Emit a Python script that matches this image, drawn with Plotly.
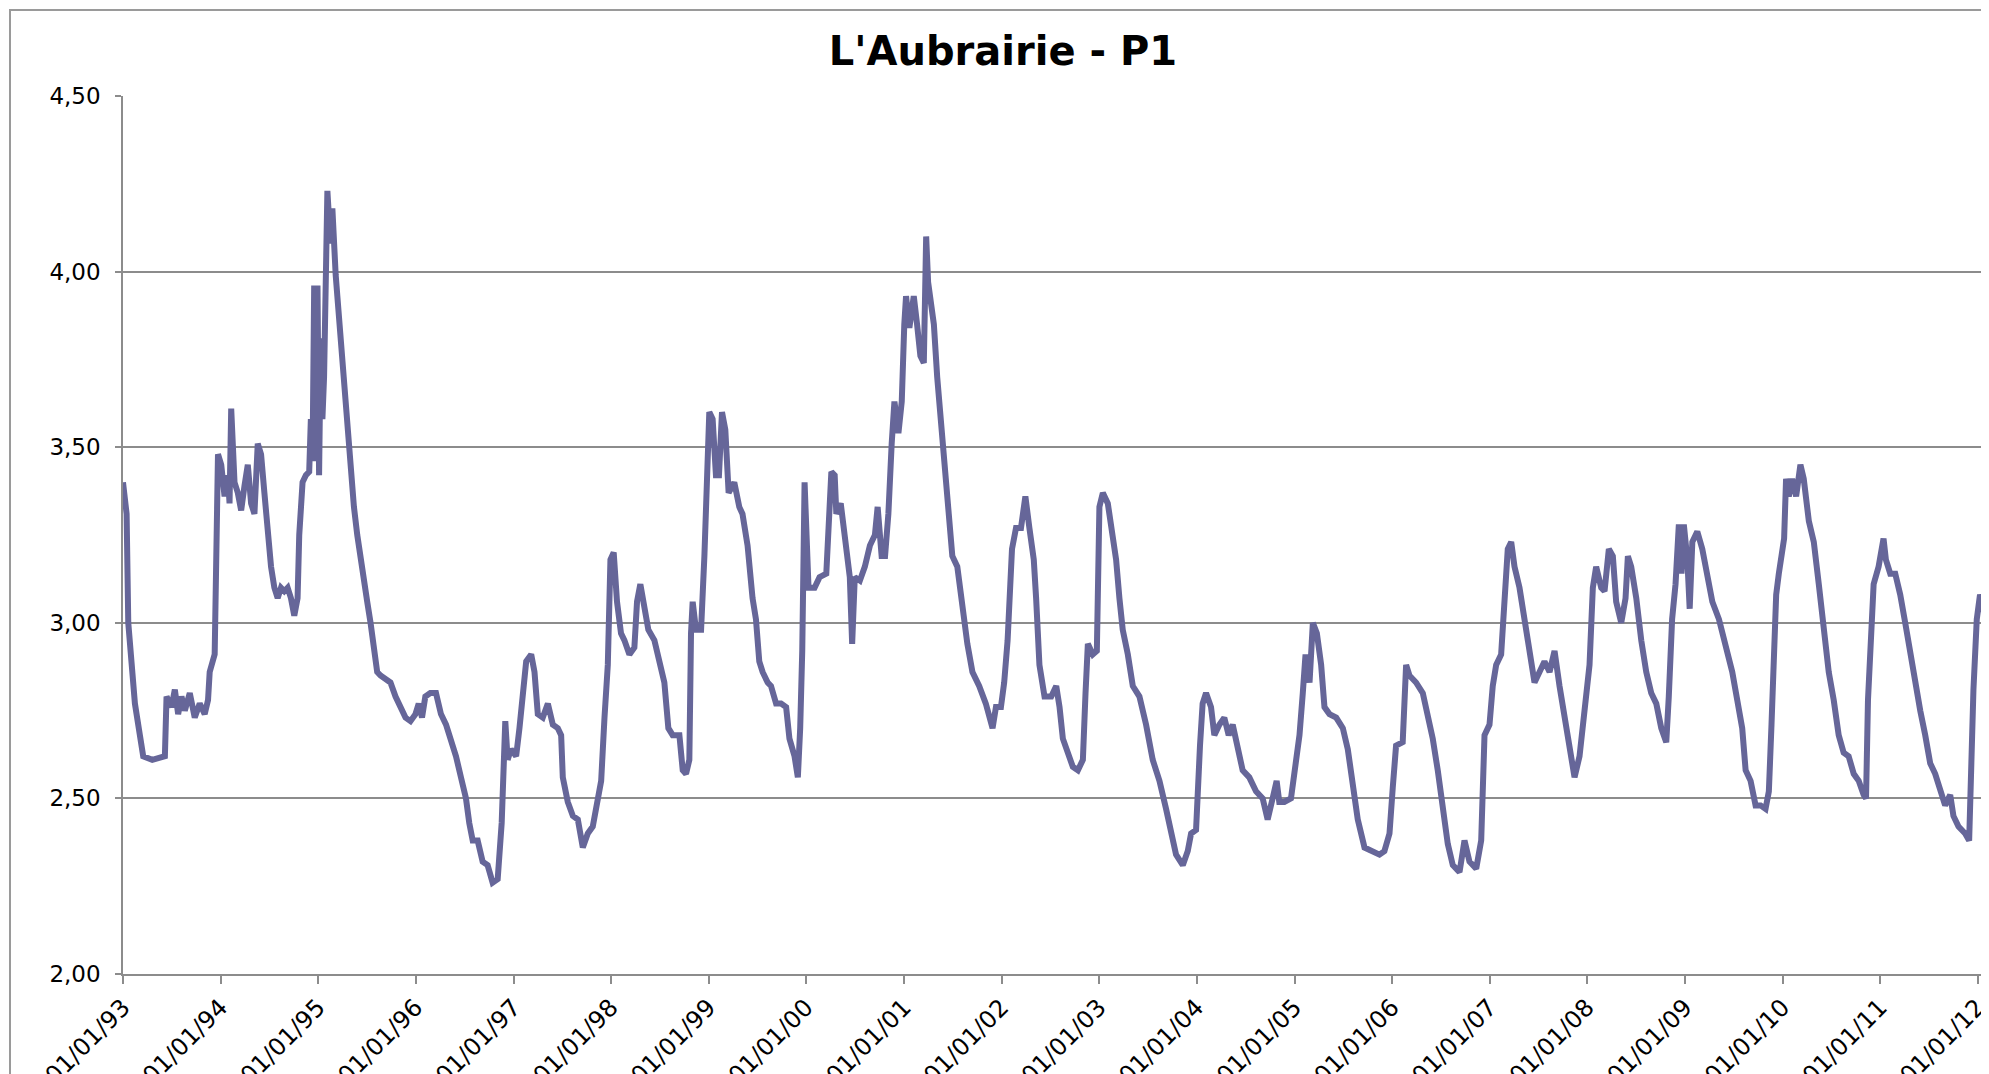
import pandas as pd
import plotly.graph_objects as go

# decimal year -> water level (m)
YEARS = [
    1993.000, 1993.037, 1993.054, 1993.088, 1993.122, 1993.173, 1993.207, 1993.300, 1993.429, 1993.446,
    1993.497, 1993.531, 1993.565, 1993.599, 1993.633, 1993.684, 1993.735, 1993.786, 1993.837, 1993.871,
    1993.888, 1993.939, 1993.956, 1993.973, 1994.007, 1994.041, 1994.075, 1994.092, 1994.109, 1994.126,
    1994.143, 1994.177, 1994.211, 1994.245, 1994.279, 1994.313, 1994.347, 1994.381, 1994.415, 1994.449,
    1994.483, 1994.517, 1994.551, 1994.585, 1994.619, 1994.653, 1994.687, 1994.721, 1994.755, 1994.789,
    1994.806, 1994.840, 1994.874, 1994.908, 1994.925, 1994.942, 1994.959, 1994.976, 1994.993, 1995.010,
    1995.027, 1995.044, 1995.061, 1995.078, 1995.095, 1995.112, 1995.129, 1995.146, 1995.163, 1995.180,
    1995.197, 1995.231, 1995.265, 1995.299, 1995.333, 1995.367, 1995.401, 1995.435, 1995.469, 1995.503,
    1995.537, 1995.571, 1995.605, 1995.639, 1995.690, 1995.741, 1995.793, 1995.844, 1995.895, 1995.946,
    1995.997, 1996.031, 1996.065, 1996.099, 1996.150,
    1996.208, 1996.259, 1996.311, 1996.362, 1996.413, 1996.464, 1996.515, 1996.549, 1996.584, 1996.635,
    1996.686, 1996.737, 1996.788, 1996.840, 1996.881, 1996.918, 1996.942, 1996.976, 1997.027, 1997.061,
    1997.096, 1997.130, 1997.181, 1997.215, 1997.249, 1997.300, 1997.352, 1997.403, 1997.454, 1997.488,
    1997.505, 1997.556, 1997.608, 1997.659, 1997.710, 1997.761, 1997.812, 1997.863, 1997.898, 1997.932,
    1997.966, 1997.993, 1998.027, 1998.061, 1998.102, 1998.137, 1998.188, 1998.239, 1998.266, 1998.300,
    1998.341, 1998.382, 1998.444, 1998.495, 1998.546, 1998.587, 1998.631, 1998.700, 1998.734, 1998.768,
    1998.802, 1998.819, 1998.836, 1998.870, 1998.922, 1998.956, 1998.983, 1999.007, 1999.041, 1999.075,
    1999.106, 1999.137, 1999.171, 1999.205, 1999.263, 1999.314,
    1999.347, 1999.399, 1999.450, 1999.485, 1999.519, 1999.553, 1999.605, 1999.639, 1999.691, 1999.742,
    1999.794, 1999.828, 1999.880, 1999.914, 1999.938, 1999.959, 1999.983, 2000.000, 2000.024, 2000.086,
    2000.137, 2000.206, 2000.234, 2000.258, 2000.292, 2000.309, 2000.354, 2000.395, 2000.447, 2000.471,
    2000.498, 2000.550, 2000.601, 2000.653, 2000.704, 2000.732, 2000.773, 2000.808, 2000.842, 2000.876,
    2000.904, 2000.945, 2000.979, 2001.003, 2001.021, 2001.055, 2001.100, 2001.134, 2001.168, 2001.203,
    2001.227, 2001.247, 2001.271, 2001.306, 2001.340, 2001.392, 2001.443, 2001.495, 2001.546, 2001.598,
    2001.649, 2001.701, 2001.770, 2001.838, 2001.907, 2001.942, 2001.993, 2002.027, 2002.062, 2002.107,
    2002.148, 2002.199, 2002.244, 2002.285, 2002.330, 2002.354, 2002.388, 2002.440, 2002.509,
    2002.560, 2002.594, 2002.628, 2002.679, 2002.730, 2002.782, 2002.833, 2002.860, 2002.884, 2002.935,
    2002.976, 2003.003, 2003.038, 2003.089, 2003.123, 2003.174, 2003.208, 2003.242, 2003.294, 2003.345,
    2003.413, 2003.481, 2003.549, 2003.618, 2003.686, 2003.737, 2003.788, 2003.857, 2003.908, 2003.942,
    2003.993, 2004.034, 2004.061, 2004.096, 2004.147, 2004.181, 2004.232, 2004.283, 2004.328, 2004.369,
    2004.420, 2004.471, 2004.539, 2004.608, 2004.676, 2004.727, 2004.778, 2004.819, 2004.846, 2004.898,
    2004.966, 2005.000, 2005.051, 2005.085, 2005.113, 2005.154, 2005.188, 2005.229, 2005.273, 2005.307,
    2005.358, 2005.427, 2005.495, 2005.546, 2005.597, 2005.648, 2005.717,
    2005.802, 2005.870, 2005.921, 2005.973, 2006.007, 2006.041, 2006.109, 2006.144, 2006.178, 2006.246,
    2006.315, 2006.366, 2006.417, 2006.468, 2006.520, 2006.571, 2006.622, 2006.691, 2006.742, 2006.793,
    2006.862, 2006.913, 2006.947, 2006.998, 2007.032, 2007.067, 2007.118, 2007.152, 2007.186, 2007.221,
    2007.255, 2007.306, 2007.357, 2007.409, 2007.460, 2007.511, 2007.562, 2007.614, 2007.665, 2007.716,
    2007.768, 2007.819, 2007.870, 2007.921, 2007.973, 2008.024, 2008.058, 2008.092, 2008.144, 2008.178,
    2008.222, 2008.263, 2008.297, 2008.349, 2008.393, 2008.417, 2008.451, 2008.503, 2008.554, 2008.605,
    2008.656, 2008.708, 2008.759, 2008.810,
    2008.836, 2008.870, 2008.905, 2008.939, 2008.966, 2008.990, 2009.024, 2009.048, 2009.075, 2009.126,
    2009.177, 2009.228, 2009.280, 2009.348, 2009.416, 2009.484, 2009.535, 2009.586, 2009.621, 2009.672,
    2009.723, 2009.774, 2009.825, 2009.859, 2009.886, 2009.910, 2009.934, 2009.961, 2009.996, 2010.016,
    2010.036, 2010.064, 2010.098, 2010.139, 2010.183, 2010.217, 2010.269, 2010.320, 2010.371, 2010.422,
    2010.473, 2010.524, 2010.575, 2010.626, 2010.677, 2010.729, 2010.780, 2010.831, 2010.855, 2010.875,
    2010.899, 2010.933, 2010.984, 2011.035, 2011.059, 2011.104, 2011.155, 2011.206, 2011.257, 2011.308,
    2011.359, 2011.411, 2011.462, 2011.513, 2011.564, 2011.615, 2011.666, 2011.718, 2011.751, 2011.803,
    2011.871, 2011.912, 2011.932, 2011.956, 2011.990, 2012.024, 2012.058, 2012.092, 2012.116,
]

LEVELS = [
    3.40, 3.31, 3.00, 2.86, 2.77, 2.68, 2.62, 2.61, 2.62, 2.79,
    2.76, 2.81, 2.74, 2.79, 2.75, 2.80, 2.73, 2.77, 2.74, 2.78,
    2.86, 2.91, 3.25, 3.48, 3.45, 3.36, 3.42, 3.34, 3.61, 3.52,
    3.40, 3.37, 3.32, 3.39, 3.45, 3.34, 3.31, 3.51, 3.48, 3.37,
    3.25, 3.16, 3.10, 3.07, 3.10, 3.09, 3.10, 3.07, 3.02, 3.07,
    3.25, 3.40, 3.42, 3.43, 3.58, 3.46, 3.96, 3.46, 3.96, 3.42,
    3.81, 3.58, 3.70, 4.08, 4.23, 4.15, 4.08, 4.18, 4.06, 3.99,
    3.93, 3.81, 3.67, 3.54, 3.42, 3.33, 3.25, 3.18, 3.10, 3.06,
    3.00, 2.92, 2.86, 2.85, 2.84, 2.83, 2.79, 2.76, 2.73, 2.72,
    2.74, 2.77, 2.73, 2.79, 2.80,
    2.80, 2.74, 2.71, 2.67, 2.62, 2.56, 2.50, 2.43, 2.38, 2.38,
    2.32, 2.31, 2.26, 2.27, 2.43, 2.72, 2.61, 2.64, 2.62, 2.70,
    2.80, 2.89, 2.91, 2.86, 2.74, 2.73, 2.77, 2.71, 2.70, 2.68,
    2.56, 2.49, 2.45, 2.44, 2.36, 2.40, 2.42, 2.49, 2.55, 2.73,
    2.88, 3.18, 3.20, 3.06, 2.97, 2.95, 2.91, 2.93, 3.06, 3.11,
    3.03, 2.98, 2.95, 2.89, 2.83, 2.70, 2.68, 2.68, 2.58, 2.57,
    2.61, 2.97, 3.06, 2.98, 2.98, 3.19, 3.46, 3.60, 3.58, 3.42,
    3.42, 3.60, 3.55, 3.37, 3.40, 3.33,
    3.31, 3.22, 3.07, 3.01, 2.89, 2.86, 2.83, 2.82, 2.77, 2.77,
    2.76, 2.67, 2.62, 2.56, 2.70, 2.92, 3.40, 3.22, 3.10, 3.10,
    3.13, 3.14, 3.31, 3.43, 3.42, 3.31, 3.34, 3.25, 3.13, 2.94,
    3.13, 3.12, 3.16, 3.22, 3.25, 3.33, 3.19, 3.19, 3.31, 3.51,
    3.63, 3.54, 3.63, 3.85, 3.93, 3.84, 3.93, 3.85, 3.76, 3.74,
    4.10, 3.97, 3.93, 3.85, 3.70, 3.52, 3.37, 3.19, 3.16, 3.04,
    2.94, 2.86, 2.82, 2.77, 2.70, 2.76, 2.76, 2.83, 2.95, 3.21,
    3.27, 3.27, 3.36, 3.27, 3.18, 3.07, 2.88, 2.79, 2.79,
    2.82, 2.76, 2.67, 2.63, 2.59, 2.58, 2.61, 2.80, 2.94, 2.91,
    2.92, 3.33, 3.37, 3.34, 3.28, 3.18, 3.07, 2.98, 2.91, 2.82,
    2.79, 2.71, 2.61, 2.55, 2.47, 2.41, 2.34, 2.31, 2.35, 2.40,
    2.41, 2.65, 2.77, 2.80, 2.76, 2.68, 2.71, 2.73, 2.68, 2.71,
    2.64, 2.58, 2.56, 2.52, 2.50, 2.44, 2.50, 2.55, 2.49, 2.49,
    2.50, 2.58, 2.68, 2.80, 2.91, 2.83, 3.00, 2.97, 2.88, 2.76,
    2.74, 2.73, 2.70, 2.64, 2.55, 2.44, 2.36,
    2.35, 2.34, 2.35, 2.40, 2.53, 2.65, 2.66, 2.88, 2.85, 2.83,
    2.80, 2.74, 2.67, 2.58, 2.47, 2.37, 2.31, 2.29, 2.38, 2.32,
    2.30, 2.38, 2.68, 2.71, 2.82, 2.88, 2.91, 3.10, 3.21, 3.23,
    3.16, 3.10, 3.01, 2.92, 2.83, 2.86, 2.89, 2.86, 2.92, 2.82,
    2.74, 2.64, 2.56, 2.62, 2.76, 2.88, 3.10, 3.16, 3.10, 3.09,
    3.21, 3.19, 3.06, 3.00, 3.07, 3.19, 3.16, 3.07, 2.95, 2.86,
    2.80, 2.77, 2.70, 2.66,
    2.79, 3.01, 3.11, 3.28, 3.14, 3.28, 3.18, 3.04, 3.23, 3.26,
    3.21, 3.14, 3.06, 3.01, 2.93, 2.86, 2.78, 2.70, 2.58, 2.55,
    2.48, 2.48, 2.47, 2.52, 2.71, 2.90, 3.08, 3.14, 3.21, 3.24,
    3.41, 3.36, 3.41, 3.36, 3.45, 3.41, 3.29, 3.23, 3.11, 2.98,
    2.86, 2.78, 2.68, 2.63, 2.62, 2.57, 2.55, 2.51, 2.50, 2.78,
    2.90, 3.11, 3.16, 3.24, 3.18, 3.14, 3.14, 3.08, 3.00, 2.91,
    2.83, 2.75, 2.68, 2.60, 2.57, 2.52, 2.48, 2.51, 2.45, 2.42,
    2.40, 2.38, 2.62, 2.81, 3.01, 3.08, 3.04, 2.98, 2.95,
]

TICK_YEARS = list(range(1993, 2013))
Y_TICKS = [2.0, 2.5, 3.0, 3.5, 4.0, 4.5]
TITLE = "L'Aubrairie - P1"


def to_date(y):
    base = pd.Timestamp(year=int(y), month=1, day=1)
    return base + pd.Timedelta(days=(y - int(y)) * 365.25)


dates = [to_date(y) for y in YEARS]
tick_dates = [pd.Timestamp(year=y, month=1, day=1) for y in TICK_YEARS]

# page body has an 8px margin, so the figure sits 8px in from the window corner
W, H = 1981, 1066
L, T, B = 115, 88, 100
plot_w = W - L
plot_h = H - T - B

fig = go.Figure()
fig.add_trace(go.Scatter(
    x=dates, y=LEVELS, mode="lines",
    line=dict(color="#666699", width=6),
    hoverinfo="skip", showlegend=False,
))

# outer chart-area frame (only its top and left edges fall inside the window)
fig.add_shape(
    type="rect", xref="paper", yref="paper",
    x0=(2 - L) / plot_w, x1=1.5,
    y0=-0.5, y1=(plot_h + T - 2) / plot_h,
    line=dict(color="#9a9a9a", width=2),
    fillcolor="rgba(0,0,0,0)", layer="below",
)

fig.update_layout(
    width=W, height=H,
    margin=dict(l=L, r=0, t=T, b=B, autoexpand=False),
    paper_bgcolor="white",
    plot_bgcolor="white",
    separators=", ",
    font=dict(family="DejaVu Sans, Arial, sans-serif", color="#000000", size=22),
    title=dict(
        text=f"<b>{TITLE}</b>",
        x=(1003 - 8) / W, xanchor="center",
        y=1 - (51 - 8) / H, yanchor="middle",
        font=dict(size=40, color="#000000", family="DejaVu Sans, Arial, sans-serif"),
    ),
    xaxis=dict(
        type="date",
        range=[tick_dates[0], to_date(2012.116)],
        tickvals=tick_dates,
        tickformat="%d/%m/%y",
        tickangle=-45,
        ticklabeloverflow="allow",
        ticks="outside", ticklen=8, tickcolor="#8c8c8c", tickwidth=1.5,
        showgrid=False, zeroline=False,
        showline=True, linecolor="#8c8c8c", linewidth=1.5,
        tickfont=dict(size=24),
    ),
    yaxis=dict(
        range=[2.0, 4.5],
        tickvals=Y_TICKS,
        tickformat=".2f",
        ticks="outside", ticklen=6, tickcolor="#8c8c8c", tickwidth=1.5,
        showgrid=True, gridcolor="#8c8c8c", gridwidth=1.5,
        zeroline=False,
        showline=True, linecolor="#8c8c8c", linewidth=1.5,
        ticklabelstandoff=10,
        tickfont=dict(size=23),
    ),
)

fig.write_html("out.html")
